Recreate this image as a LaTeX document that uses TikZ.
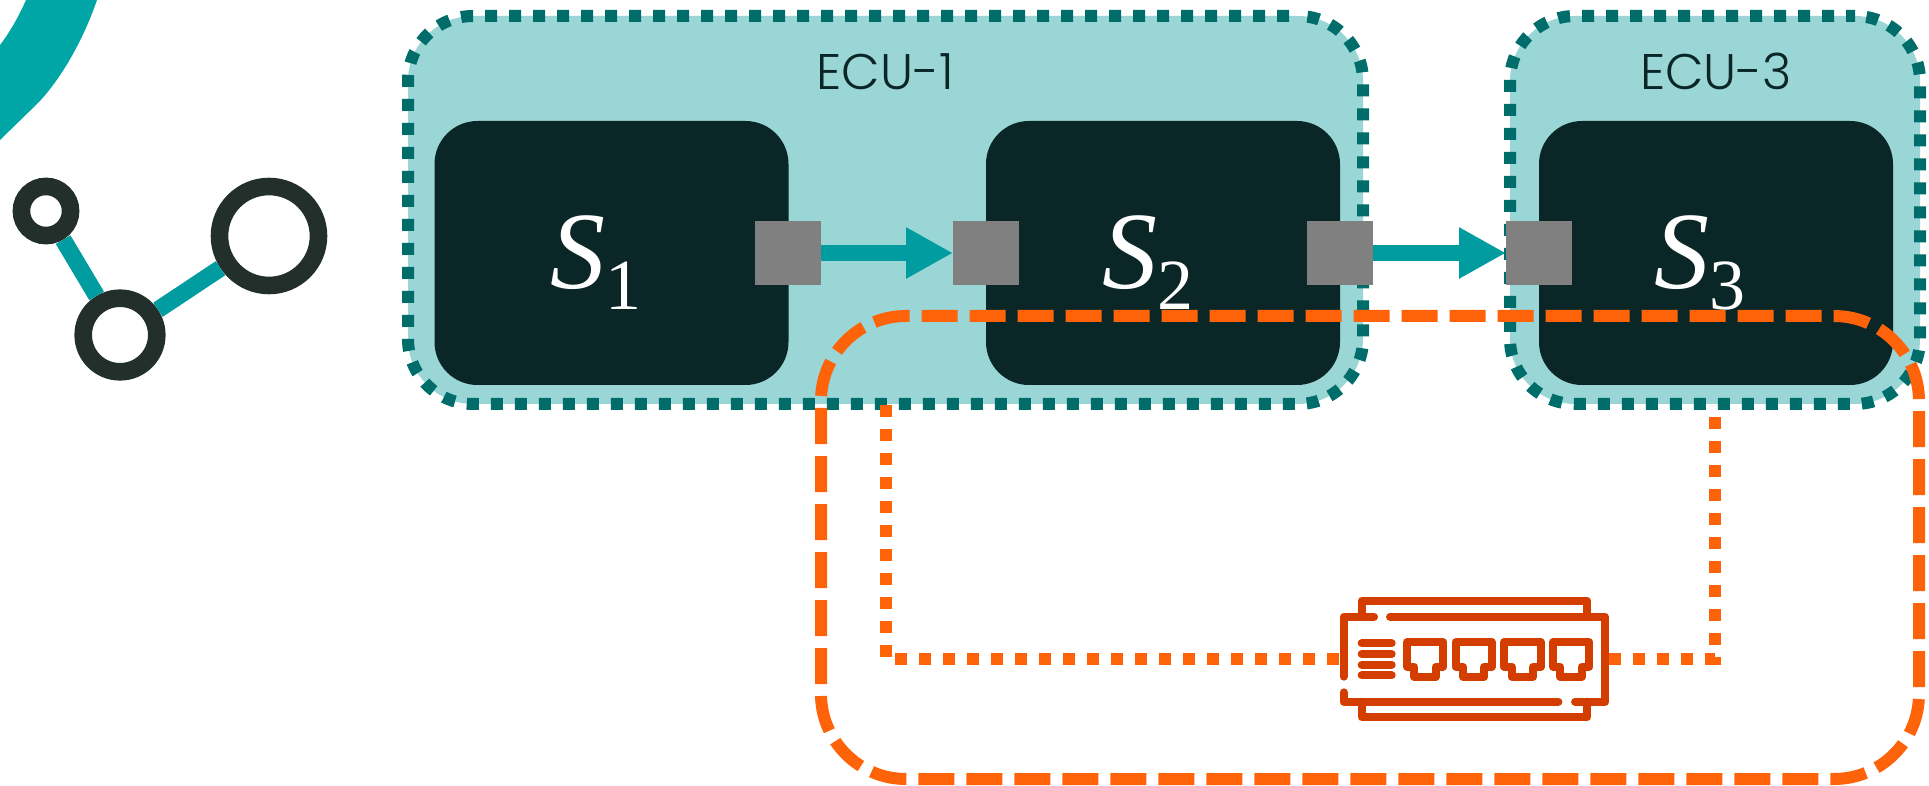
\documentclass[tikz,border=0pt]{standalone}
\usepackage{fontspec}
\usepackage{tikz}
\usetikzlibrary{arrows.meta}
\setmainfont{Poppins Light}
\newfontfamily\svcfont{Liberation Serif}
\definecolor{ecufill}{HTML}{9AD6D6}
\definecolor{ecudots}{HTML}{006D6B}
\definecolor{svcdark}{HTML}{0A2626}
\definecolor{flowteal}{HTML}{009CA0}
\definecolor{swooshteal}{HTML}{00A5A5}
\definecolor{netorange}{HTML}{FF6309}
\definecolor{iconorange}{HTML}{D43D00}
\definecolor{ringdark}{HTML}{222F2B}
\newcommand{\svcname}[1]{{\fontsize{55}{55}\svcfont\itshape S}\raisebox{-10.5pt}{\fontsize{36}{36}\svcfont #1}}
\tikzset{
  ecubox/.style={draw=ecudots,fill=ecufill,line width=6pt,rounded corners=32.5pt,minimum height=194pt,inner sep=0,outer sep=0},
  svcbox/.style={fill=svcdark,rounded corners=21.5pt,minimum width=177pt,minimum height=132pt,inner sep=0,outer sep=0},
  portbox/.style={fill=gray,minimum width=33pt,minimum height=32pt,inner sep=0,outer sep=0},
  ecutext/.style={text=svcdark,font=\fontsize{25}{25}\selectfont,anchor=base,inner sep=0},
  svctext/.style={text=white,anchor=base,inner sep=0},
  flowarrow/.style={draw=flowteal,line width=8pt,-{Triangle[length=23.5pt,width=24pt]}},
  netline/.style={draw=netorange,line width=6pt,dash pattern=on 6pt off 6pt},
  ringnode/.style={circle,draw=ringdark,fill=white,line width=8.8pt,inner sep=0},
  icon/.style={draw=iconorange,line width=4pt,line cap=round,line join=round}
}
\begin{document}
\begin{tikzpicture}[x=0.5pt,y=-0.5pt]
    \useasboundingbox (0,0) rectangle (1929,786);
    % swoosh and graph mark
    \fill[swooshteal] (97,0) .. controls (84,38) and (62,78) .. (38,103) -- (0,140) -- (0,45) .. controls (10,32) and (19,16) .. (26,0) -- cycle;
    \node[ringnode,minimum size=24.6pt] (ringa) at (46,211) {};
    \node[ringnode,minimum size=36.8pt] (ringb) at (120,335) {};
    \node[ringnode,minimum size=49.5pt] (ringc) at (269,236) {};
    \draw[flowteal,line width=8.5pt] (ringa) -- (ringb);
    \draw[flowteal,line width=8.5pt] (ringb) -- (ringc);
    % ECUs
    \node[ecubox,minimum width=477.5pt,dash pattern=on 6pt off 6pt,dash phase=7.5pt] (ecua) at (885.5,210) {};
    \node[ecubox,minimum width=205pt,dash pattern=on 6pt off 6pt,dash phase=1.5pt] (ecuc) at (1715,210) {};
    \node[ecutext] (ecualabel) at (885,90) {ECU-1};
    \node[ecutext] (ecuclabel) at (1716,90) {ECU-3};
    % services
    \node[svcbox] (svca) at (611.5,253) {};
    \node[svcbox] (svcb) at (1163,253) {};
    \node[svcbox] (svcc) at (1716,253) {};
    \node[svctext] (svcatext) at (596,289) {\svcname{1}};
    \node[svctext] (svcbtext) at (1148,289) {\svcname{2}};
    \node[svctext] (svcctext) at (1700,289) {\svcname{3}};
    % ports
    \node[portbox] (porta) at (788,253) {};
    \node[portbox] (portb) at (986,253) {};
    \node[portbox] (portc) at (1340,253) {};
    \node[portbox] (portd) at (1539,253) {};
    \draw[flowarrow] (porta) -- (portb);
    \draw[flowarrow] (portc) -- (portd);
    % network
    \draw[netline,dash pattern=on 18pt off 6pt,dash phase=20.5pt,rounded corners=42.5pt] (821,401) -- (821,779) -- (1919,779) -- (1919,316) -- (821,316) -- (821,401);
    \node[inner sep=0,outer sep=0,minimum width=135pt,minimum height=60pt] (switch) at (1474,659) {};
    \coordinate (ecuadrop) at (885.5,405);
    \coordinate (ecucdrop) at (1715,405);
    \draw[netline] (switch.west) -| (ecuadrop);
    \draw[netline] (switch.east) -| (ecucdrop);
    % switch icon
    \begin{scope}[shift={(1300,560)},x=0.1667pt,y=-0.1667pt]
      \draw[icon] (222,170) -- (131,170) -- (131,350);
      \draw[icon] (270,170) -- (915,170) -- (915,425) -- (825,425);
      \draw[icon] (775,425) -- (131,425) -- (131,397);
      \draw[icon] (185,170) -- (185,122) -- (862,122) -- (862,170);
      \draw[icon] (185,425) -- (185,472) -- (862,472) -- (862,425);
      \draw[icon] (185,250) -- (275,250);
      \draw[icon] (185,282) -- (275,282);
      \draw[icon] (185,314) -- (275,314);
      \draw[icon] (185,346) -- (275,346);
      \draw[icon] (321,247) -- (430,247) -- (430,320) -- (407,320) -- (407,350) -- (343,350) -- (343,320) -- (321,320) -- cycle;
      \draw[icon] (467,247) -- (576,247) -- (576,320) -- (553,320) -- (553,350) -- (489,350) -- (489,320) -- (467,320) -- cycle;
      \draw[icon] (613,247) -- (722,247) -- (722,320) -- (699,320) -- (699,350) -- (635,350) -- (635,320) -- (613,320) -- cycle;
      \draw[icon] (759,247) -- (868,247) -- (868,320) -- (845,320) -- (845,350) -- (781,350) -- (781,320) -- (759,320) -- cycle;
    \end{scope}
\end{tikzpicture}
\end{document}
